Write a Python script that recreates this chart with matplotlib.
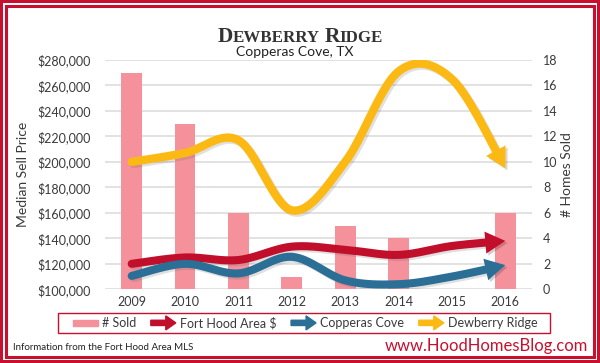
import numpy as np
import matplotlib
matplotlib.use("Agg")
import matplotlib.pyplot as plt
import matplotlib.patches as mpatches
import matplotlib.patheffects as pe
from matplotlib import font_manager as fm
from matplotlib.legend_handler import HandlerPatch
from matplotlib.ticker import FuncFormatter, MultipleLocator

# data
years = ['2009', '2010', '2011', '2012', '2013', '2014', '2015', '2016']
sold = [17, 13, 6, 1, 5, 4, 0, 6]
fort_hood = [120000, 125000, 123000, 133500, 131000, 127000, 134000, 138000]
copperas = [110500, 120000, 112500, 125500, 107000, 104000, 110000, 119000]
dewberry = [200000, 207000, 217000, 162000, 200000, 271000, 265000, 195000]

PINK = '#F4919B'
RED = '#C10E2B'
BLUE = '#2B6E96'
YELLOW = '#FDB913'
TXT = '#3a3a3a'
FRAME = '#C8102E'

plt.rcParams['font.family'] = ['Lato', 'DejaVu Sans']

W, H = 600, 363
fig = plt.figure(figsize=(W / 100, H / 100), dpi=100)
fig.patch.set_facecolor(FRAME)


def px(x, y):
    return x / W, 1 - y / H


# red border: thick outer band, white gap, thin inner red line
fig.patches.append(mpatches.Rectangle((3 / W, 3 / H), 1 - 6 / W, 1 - 6 / H, transform=fig.transFigure,
                                      facecolor='white', edgecolor='none', zorder=-3))
fig.patches.append(mpatches.Rectangle((6 / W, 6 / H), 1 - 12 / W, 1 - 12 / H, transform=fig.transFigure,
                                      facecolor='white', edgecolor=FRAME, lw=2.2, zorder=-2))

# axes: bars on right scale, lines on left scale
left, right, top, bottom = 105, 532, 60, 289.3
ax = fig.add_axes([left / W, 1 - bottom / H, (right - left) / W, (bottom - top) / H])
ax.patch.set_alpha(0)
x = np.arange(len(years))
ax.bar(x, sold, width=0.39, color=PINK, zorder=2)
ax.set_xlim(-0.5, len(years) - 0.5)
ax.set_ylim(0, 18)
ax.yaxis.set_major_locator(MultipleLocator(2))
ax.grid(axis='y', color='#DADADA', lw=1.1)
ax.set_axisbelow(True)
for s in ax.spines.values():
    s.set_visible(False)
ax.set_xticks(x)
ax.set_xticklabels(years)

ax2 = ax.twinx()
ax.yaxis.tick_right()
ax2.yaxis.tick_left()
ax.tick_params(axis='x', length=0, pad=5, labelsize=9, labelcolor=TXT)
ax.tick_params(axis='y', length=0, pad=8, labelsize=9, labelcolor=TXT)
ax2.set_ylim(100000, 280000)
ax2.yaxis.set_major_locator(MultipleLocator(20000))
ax2.yaxis.set_major_formatter(FuncFormatter(lambda v, _: f'${v:,.0f}'))
ax2.tick_params(axis='y', length=0, pad=10, labelsize=9, labelcolor=TXT)
for s in ax2.spines.values():
    s.set_visible(False)


def catmull(pts, n=40):
    ext = np.vstack([pts[0], pts, pts[-1]])
    out = []
    t = np.linspace(0, 1, n)[:, None]
    for i in range(len(pts) - 1):
        p0, p1, p2, p3 = ext[i], ext[i + 1], ext[i + 2], ext[i + 3]
        seg = 0.5 * (2 * p1 + (-p0 + p2) * t + (2 * p0 - 5 * p1 + 4 * p2 - p3) * t ** 2
                     + (-p0 + 3 * p1 - 3 * p2 + p3) * t ** 3)
        out.append(seg if i == 0 else seg[1:])
    return np.vstack(out)


def arrow_line(axis, values, color, lw=5.8, head_len=20, head_w=22):
    disp = axis.transData.transform(np.column_stack([x, values]))
    curve = catmull(disp)
    d = np.r_[0, np.cumsum(np.hypot(*np.diff(curve, axis=0).T))]
    cut = np.searchsorted(d, d[-1] - head_len)
    base = curve[cut]
    inv = axis.transData.inverted()
    body = inv.transform(curve[:cut + 1])
    shadow = [pe.SimpleLineShadow(offset=(1.5, -1.5), shadow_color='#666', alpha=0.2), pe.Normal()]
    axis.plot(body[:, 0], body[:, 1], color=color, lw=lw, solid_capstyle='round', zorder=3,
              path_effects=shadow)
    tip = inv.transform(curve[-1])
    b = inv.transform(base)
    arr = mpatches.FancyArrowPatch(posA=b, posB=tip, mutation_scale=1,
                                   arrowstyle=f'-|>,head_length={head_len * 0.72},head_width={head_w * 0.36}',
                                   color=color, lw=0, shrinkA=0, shrinkB=0, zorder=4,
                                   path_effects=[pe.SimplePatchShadow(offset=(1.5, -1.5), alpha=0.2), pe.Normal()])
    axis.add_patch(arr)


arrow_line(ax2, dewberry, YELLOW, lw=6.0)
arrow_line(ax2, fort_hood, RED)
arrow_line(ax2, copperas, BLUE)

# axis titles
fig.text(*px(23, 174), 'Median Sell Price', rotation=90, ha='center', va='center', fontsize=10, color=TXT)
fig.text(*px(567, 175), '# Homes Sold', rotation=90, ha='center', va='center', fontsize=10, color=TXT)

# title in small caps
names = {f.name for f in fm.fontManager.ttflist}
if 'Liberation Sans Narrow' in names:
    title_font = 'Liberation Sans Narrow'
else:
    title_font = 'Liberation Serif'
pieces = [('D', 19), ('EWBERRY', 15), (' ', 15), ('R', 19), ('IDGE', 15)]
renderer = fig.canvas.get_renderer()
target_w = 165
scale = 1.0
for _ in range(2):
    widths = []
    for s, size in pieces:
        t = fig.text(0, 0, s, fontsize=size * scale, family=title_font, weight='bold')
        widths.append(t.get_window_extent(renderer).width)
        t.remove()
    scale *= target_w / sum(widths)
widths = []
for s, size in pieces:
    t = fig.text(0, 0, s, fontsize=size * scale, family=title_font, weight='bold')
    widths.append(t.get_window_extent(renderer).width)
    t.remove()
xpos = 300.5 - sum(widths) / 2
for (s, size), w in zip(pieces, widths):
    fig.text(xpos / W, 1 - 42 / H, s, fontsize=size * scale, family=title_font, weight='bold',
             color='#333333', ha='left', va='baseline')
    xpos += w

fig.text(*px(295, 52), 'Copperas Cove, TX', ha='center', va='center', fontsize=10, color='#222222')


# legend with arrow handles
def arrow_handle(legend, orig_handle, xdescent, ydescent, width, height, fontsize):
    return mpatches.FancyArrow(-xdescent, height / 2 - ydescent, width, 0, width=height * 0.6,
                               head_width=height * 1.6, head_length=width * 0.4,
                               length_includes_head=True)


def bar_handle(legend, orig_handle, xdescent, ydescent, width, height, fontsize):
    return mpatches.Rectangle((-xdescent, height * 0.15 - ydescent), width, height * 0.7)


handles = [mpatches.Rectangle((0, 0), 1, 1, color=PINK),
           mpatches.FancyArrow(0, 0, 1, 0, color=RED),
           mpatches.FancyArrow(0, 0, 1, 0, color=BLUE),
           mpatches.FancyArrow(0, 0, 1, 0, color=YELLOW)]
labels = ['# Sold', 'Fort Hood Area $', 'Copperas Cove', 'Dewberry Ridge']
hmap = {mpatches.FancyArrow: HandlerPatch(patch_func=arrow_handle),
        mpatches.Rectangle: HandlerPatch(patch_func=bar_handle)}
leg = fig.legend(handles, labels, handler_map=hmap, loc='center', bbox_to_anchor=px(305, 323),
                 ncol=4, frameon=False, fontsize=9, handlelength=2.0, handletextpad=0.3,
                 columnspacing=1.2, labelcolor=TXT)
fig.patches.append(mpatches.Rectangle(px(58, 333), 492 / W, 20 / H, transform=fig.transFigure,
                                      facecolor='none', edgecolor=FRAME, lw=1.0))

fig.text(*px(13, 348), 'Information from the Fort Hood Area MLS', ha='left', va='center',
         fontsize=7, color='#222222')
fig.text(*px(588, 346), 'www.HoodHomesBlog.com', ha='right', va='center', fontsize=12, color=FRAME)

fig.savefig('out.png', dpi=100, facecolor=fig.get_facecolor())
